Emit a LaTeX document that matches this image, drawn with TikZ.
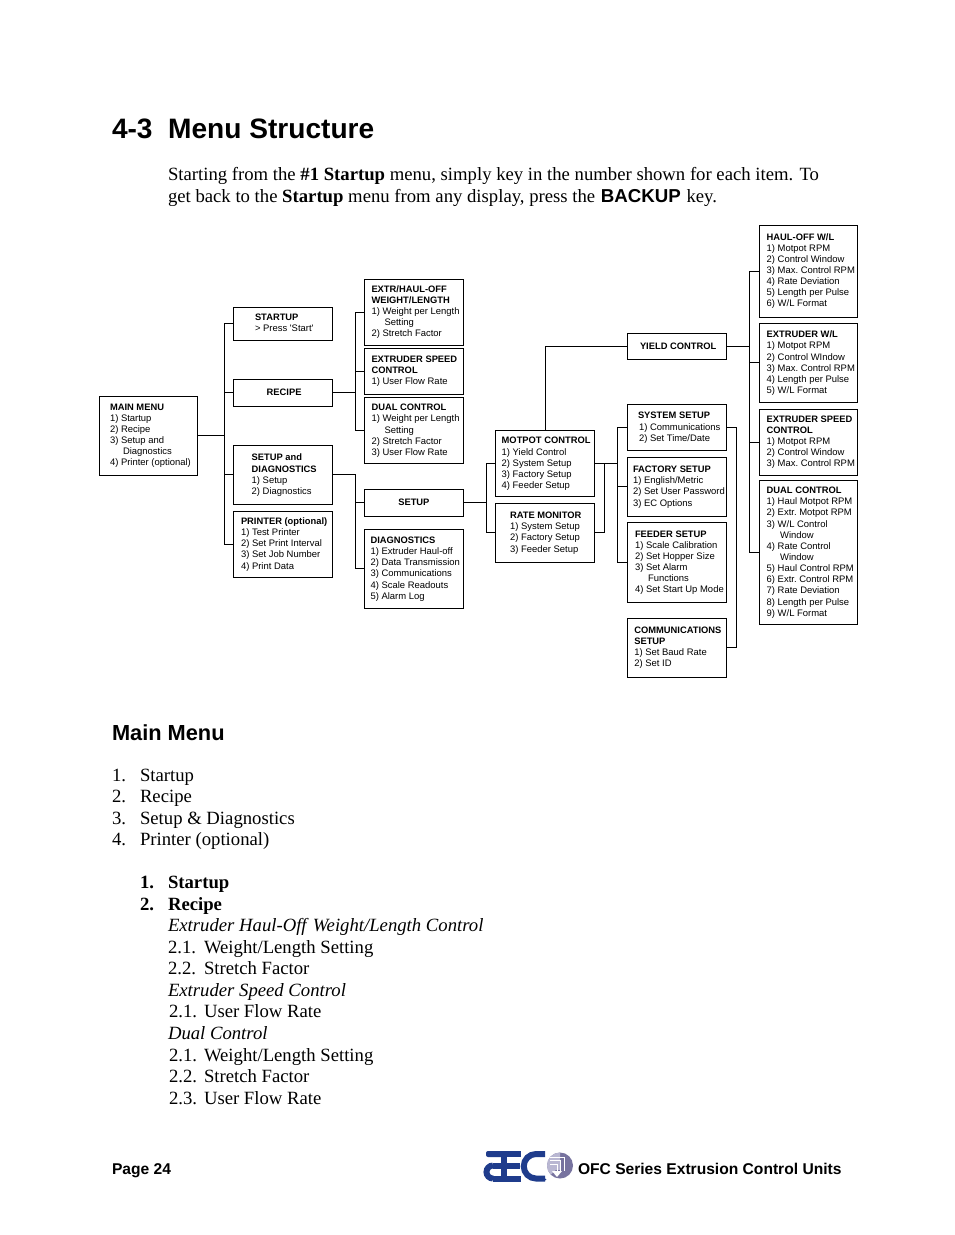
\documentclass[tikz,border=0pt]{standalone}
\usepackage{fontspec}
\setmainfont{Liberation Serif}
\setsansfont{Liberation Sans}
\newfontfamily\psans{Liberation Sans}
\definecolor{logoblue}{HTML}{1F3C8C}
\definecolor{logogray}{HTML}{77739F}
\definecolor{logolight}{HTML}{B9B7D2}
\tikzset{
  boxnode/.style={draw=black,line width=1pt,rectangle,inner sep=0pt,outer sep=0pt,anchor=north west},
  boxtext/.style={inner sep=0pt,outer sep=0pt,anchor=north west,align=left,yshift=3.65pt,font=\sffamily\fontsize{9.45}{11}\selectfont\frenchspacing},
  conn/.style={line width=1pt,black,line cap=rect},
  lineT/.style={inner sep=0pt,outer sep=0pt,anchor=base west,font=\fontsize{18.7}{21.5}\selectfont},
  headT/.style={inner sep=0pt,outer sep=0pt,anchor=base west,font=\sffamily\bfseries}
}
\newcommand{\fl}{\rule{0pt}{7pt}}
\newcommand{\hd}[1]{{\fontsize{9.35}{11}\selectfont\bfseries #1}}
\newcommand{\ind}{\hspace*{13pt}}
% name x1 y1 x2 y2 textx firstcentre text
\newcommand{\menubox}[8]{%
  \node[boxnode,minimum width={#4-#2},minimum height={#5-#3}] (#1) at (#2,-#3) {};
  \node[boxtext] (#1t) at (#6,-#7) {\fl #8};
}
\newcommand{\tl}[4]{\node[lineT] (#1) at (#2,-#3) {#4};}
\begin{document}
\begin{tikzpicture}[x=1pt,y=1pt]
\useasboundingbox (0,0) rectangle (954,-1235);
\fill[white] (0,0) rectangle (954,-1235);

% headings
\node[headT,font=\sffamily\bfseries\fontsize{28.1}{30}\selectfont] (title) at (112,-138) {4-3\ \ Menu Structure};
\tl{p1}{168}{180}{Starting from the \textbf{\#1 Startup} menu, simply key in the number shown for each item. To}
\tl{p2}{168}{202}{get back to the \textbf{Startup} menu from any display, press the\hspace{1pt} {\sffamily\bfseries BACKUP}\hspace{1pt} key.}
\node[headT,font=\sffamily\bfseries\fontsize{21.8}{24}\selectfont] (mainhead) at (112,-740) {Main Menu};

% boxes
\menubox{main}{99.3}{396}{197.7}{475.3}{110}{406.7}{\hd{MAIN MENU}\\1) Startup\\2) Recipe\\3) Setup and\\\ind Diagnostics\\4) Printer (optional)}
\menubox{startup}{233.3}{307.3}{332.7}{340.3}{255}{317}{\hd{STARTUP}\\> Press {\psans 'Start'}}
\menubox{recipe}{233.3}{379.3}{332.7}{406.3}{266.7}{391.7}{\hd{RECIPE}}
\menubox{setdiag}{233.3}{445.3}{332.7}{504.3}{251.7}{457}{\hd{SETUP and}\\[1pt]\hd{DIAGNOSTICS}\\1) Setup\\2) Diagnostics}
\menubox{printer}{233.3}{511}{332.7}{577.3}{241}{521}{\hd{PRINTER (optional)}\\1) Test Printer\\2) Set Print Interval\\3) Set Job Number\\[1pt]4) Print Data}
\menubox{extr}{364.3}{279.3}{463.3}{345.3}{371.5}{289}{\hd{EXTR/HAUL-OFF}\\\hd{WEIGHT/LENGTH}\\1) Weight per Length\\\ind Setting\\2) Stretch Factor}
\menubox{exsp}{364.3}{348.3}{463.3}{394.3}{371.5}{359}{\hd{EXTRUDER SPEED}\\\hd{CONTROL}\\1) User Flow Rate}
\menubox{dual}{364.3}{397.3}{463.3}{463.3}{371.5}{407}{\hd{DUAL CONTROL}\\1) Weight per Length\\[1pt]\ind Setting\\2) Stretch Factor\\3) User Flow Rate}
\menubox{setup}{364.3}{489.3}{463.3}{516.3}{398.3}{501.7}{\hd{SETUP}}
\menubox{diag}{364.3}{529.3}{463.3}{608.3}{370.5}{540}{\hd{DIAGNOSTICS}\\1) Extruder Haul-off\\2) Data Transmission\\3) Communications\\[1pt]4) Scale Readouts\\5) Alarm Log}
\menubox{motpot}{495.3}{430}{594.7}{496.3}{501.7}{440}{\hd{MOTPOT CONTROL}\\[1pt]1) Yield Control\\2) System Setup\\3) Factory Setup\\4) Feeder Setup}
\menubox{rate}{495.3}{503.3}{594.7}{562.3}{510}{514.7}{\hd{RATE MONITOR}\\1) System Setup\\2) Factory Setup\\[1pt]3) Feeder Setup}
\menubox{yield}{627.3}{333.3}{726.7}{359}{640}{345.7}{\hd{YIELD CONTROL}}
\menubox{system}{627.3}{404.3}{726.7}{450.3}{638}{415}{\hd{SYSTEM SETUP}\\[1pt]\hspace*{1pt}1) Communications\\\hspace*{1pt}2) Set Time/Date}
\menubox{factory}{627.3}{457.3}{726.7}{516.3}{633}{468.7}{\hd{FACTORY SETUP}\\1) English/Metric\\2) Set User Password\\[1pt]3) EC Options}
\menubox{feeder}{627.3}{522.3}{726.7}{602.7}{635}{534}{\hd{FEEDER SETUP}\\1) Scale Calibration\\2) Set Hopper Size\\3) Set Alarm\\\ind Functions\\4) Set Start Up Mode}
\menubox{comm}{627.3}{618.3}{726.7}{677.3}{634.3}{629.7}{\hd{COMMUNICATIONS}\\\hd{SETUP}\\1) Set Baud Rate\\2) Set ID}
\menubox{haul}{759.3}{225.3}{857.7}{317}{766.7}{237.3}{\hd{HAUL-OFF W/L}\\1) Motpot RPM\\2) Control Window\\3) Max. Control RPM\\4) Rate Deviation\\5) Length per Pulse\\6) W/L Format}
\menubox{exwl}{759.3}{323.3}{857.7}{402.3}{766.7}{334}{\hd{EXTRUDER W/L}\\1) Motpot RPM\\[1pt]2) Control WIndow\\3) Max. Control RPM\\4) Length per Pulse\\5) W/L Format}
\menubox{exsp2}{759.3}{409.3}{857.7}{475.3}{766.7}{419}{\hd{EXTRUDER SPEED}\\\hd{CONTROL}\\1) Motpot RPM\\2) Control Window\\3) Max. Control RPM}
\menubox{dual2}{759.3}{480.7}{857.7}{624.3}{766.7}{489.7}{\hd{DUAL CONTROL}\\1) Haul Motpot RPM\\2) Extr. Motpot RPM\\[1pt]3) W/L Control\\\hspace*{13.5pt}Window\\4) Rate Control\\\hspace*{13.5pt}Window\\5) Haul Control RPM\\6) Extr. Control RPM\\7) Rate Deviation\\[1pt]8) Length per Pulse\\9) W/L Format}

% connector buses
\coordinate (bA) at (224.3,0);
\coordinate (bB) at (355,0);
\coordinate (bC) at (486.3,0);
\coordinate (bD) at (604.3,0);
\coordinate (bE) at (617.3,0);
\coordinate (bF) at (736.7,0);
\coordinate (bG) at (749,0);
\coordinate (bY) at (545.3,0);

\draw[conn] (main.east) -- (main.east -| bA);
\draw[conn] (startup.west -| bA) -- (printer.west -| bA);
\foreach \n in {startup,recipe,setdiag,printer} \draw[conn] (\n.west) -- (\n.west -| bA);

\draw[conn] (recipe.east) -- (recipe.east -| bB);
\draw[conn] (extr.west -| bB) -- (dual.west -| bB);
\foreach \n in {extr,exsp,dual} \draw[conn] (\n.west) -- (\n.west -| bB);

\draw[conn] (setdiag.east) -- (setdiag.east -| bB);
\draw[conn] (setdiag.east -| bB) -- (diag.west -| bB);
\foreach \n in {setup,diag} \draw[conn] (\n.west) -- (\n.west -| bB);

\draw[conn] (setup.east) -- (setup.east -| bC);
\draw[conn] (motpot.west -| bC) -- (rate.west -| bC);
\foreach \n in {motpot,rate} \draw[conn] (\n.west) -- (\n.west -| bC);

\draw[conn] (motpot.east) -- (motpot.east -| bE);
\draw[conn] (rate.east) -- (rate.east -| bD);
\draw[conn] (motpot.east -| bD) -- (rate.east -| bD);
\draw[conn] (system.west -| bE) -- (feeder.west -| bE);
\foreach \n in {system,factory,feeder} \draw[conn] (\n.west) -- (\n.west -| bE);

\draw[conn] (system.east) -- (system.east -| bF);
\draw[conn] (comm.east) -- (comm.east -| bF);
\draw[conn] (system.east -| bF) -- (comm.east -| bF);

\draw[conn] (motpot.north -| bY) -- (yield.west -| bY) -- (yield.west);

\draw[conn] (yield.east) -- (yield.east -| bG);
\draw[conn] (haul.west -| bG) -- (dual2.west -| bG);
\foreach \n in {haul,exwl,exsp2,dual2} \draw[conn] (\n.west) -- (\n.west -| bG);

% lists
\tl{a1}{112}{781}{1.} \tl{a1t}{140}{781}{Startup}
\tl{a2}{112}{802.5}{2.} \tl{a2t}{140}{802.5}{Recipe}
\tl{a3}{112}{824}{3.} \tl{a3t}{140}{824}{Setup \& Diagnostics}
\tl{a4}{112}{845.5}{4.} \tl{a4t}{140}{845.5}{Printer (optional)}
\tl{b1}{140}{888}{\textbf{1.}} \tl{b1t}{168}{888}{\textbf{Startup}}
\tl{b2}{140}{910}{\textbf{2.}} \tl{b2t}{168}{910}{\textbf{Recipe}}
\tl{c1}{168}{931}{\textit{Extruder Haul-Off\hspace{1.5pt} Weight/Length Control}}
\tl{c2}{168}{953}{2.1.} \tl{c2t}{204}{953}{Weight/Length Setting}
\tl{c3}{168}{974}{2.2.} \tl{c3t}{204}{974}{Stretch Factor}
\tl{c4}{168}{996}{\textit{Extruder Speed Control}}
\tl{c5}{169}{1017}{2.1.} \tl{c5t}{204}{1017}{User Flow Rate}
\tl{c6}{168}{1039}{\textit{Dual Control}}
\tl{c7}{169}{1061}{2.1.} \tl{c7t}{204}{1061}{Weight/Length Setting}
\tl{c8}{169}{1082}{2.2.} \tl{c8t}{204}{1082}{Stretch Factor}
\tl{c9}{169}{1104}{2.3.} \tl{c9t}{204}{1104}{User Flow Rate}

% footer
\node[headT,font=\sffamily\bfseries\fontsize{15.6}{18}\selectfont] (page) at (112,-1174) {Page 24};
\node[headT,font=\sffamily\bfseries\fontsize{15.6}{18}\selectfont] (series) at (578,-1174) {OFC Series Extrusion Control Units};

% logo
\begin{scope}[logoblue]
  % a
  \fill[rounded corners=2pt] (486,-1151) rectangle (507,-1157);
  \fill (493,-1162.5) rectangle (507,-1168.5);
  \fill (493,-1175.5) rectangle (507,-1181.5);
  \draw[line width=6pt] (493,-1165.5) arc[start angle=90,end angle=270,radius=6.5];
  % E
  \fill (501,-1151) rectangle (521,-1157);
  \fill (501,-1162.5) rectangle (520,-1168.5);
  \fill (501,-1175.5) rectangle (521,-1181.5);
  \fill (501,-1153) rectangle (507,-1180);
  % C
  \draw[line width=6pt] (545,-1154) -- (536,-1154) arc[start angle=90,end angle=270,radius=12.25] -- (545,-1178.5);
  \fill (545.5,-1179.5) circle[radius=0.9];
\end{scope}
\fill[logogray] (560,-1165.5) circle[radius=13];
\fill[logolight] (560,-1152.5) arc[start angle=90,end angle=225,radius=13] -- (560,-1165.5) -- cycle;
\fill[logolight] (548,-1160) rectangle (560,-1170);
\draw[white,line width=1pt] (550,-1157) -- (564,-1157) -- (564,-1171);
\draw[white,line width=1pt] (550,-1160.5) -- (560.5,-1160.5) -- (560.5,-1171);
\draw[white,line width=1pt] (550,-1164) -- (557,-1164) -- (557,-1171);
\fill[white] (552,-1171) -- (562,-1171) -- (557,-1177) -- cycle;
\end{tikzpicture}
\end{document}
